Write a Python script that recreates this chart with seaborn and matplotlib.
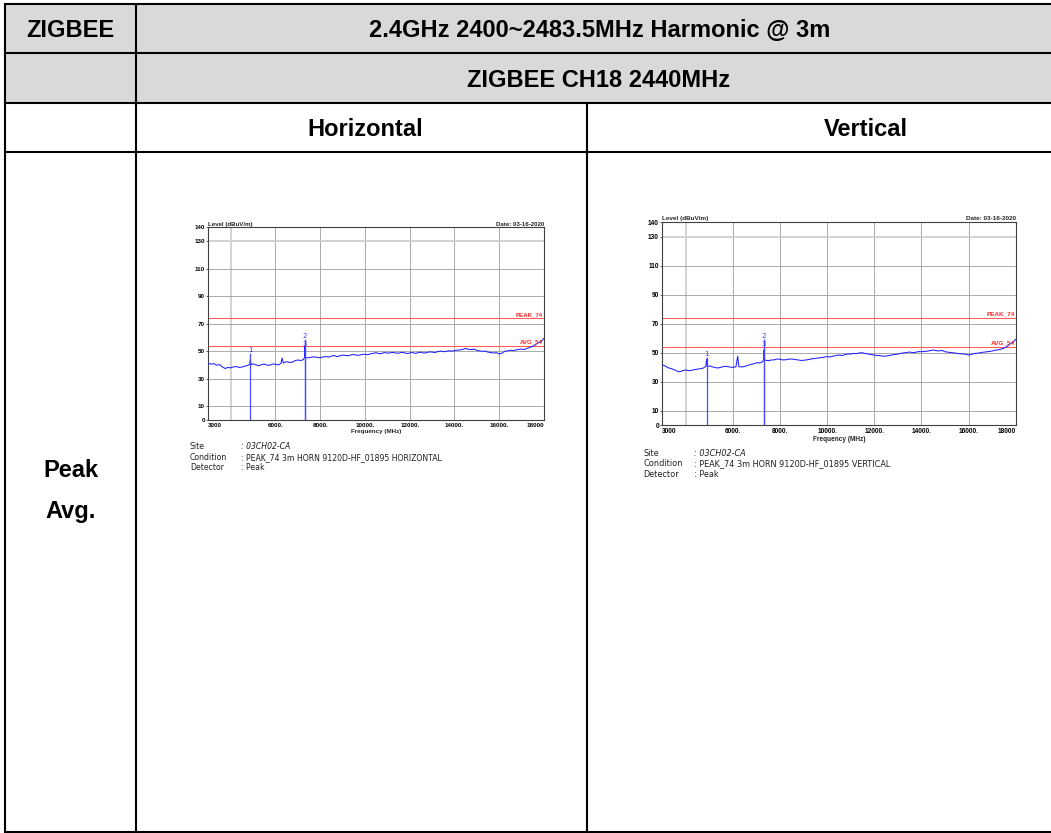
import numpy as np
import pandas as pd
import matplotlib
matplotlib.use("Agg")
import matplotlib.pyplot as plt
import seaborn as sns
from matplotlib.patches import Rectangle

# ---------------- data ----------------
header_band = "ZIGBEE"
header_title = "2.4GHz 2400~2483.5MHz Harmonic @ 3m"
header_channel = "ZIGBEE CH18 2440MHz"
pol_labels = ["Horizontal", "Vertical"]
row_labels = ["Peak", "Avg."]

y_ticks = [0, 10, 30, 50, 70, 90, 110, 130, 140]
x_ticks = [3000, 4000, 6000, 8000, 10000, 12000, 14000, 16000, 18000]
x_tick_labels = ["3000", "", "6000.", "8000.", "10000.", "12000.", "14000.", "16000.", "18000"]
limit_levels = [74, 54]
limit_names = ["PEAK_74", "AVG_54"]
date_text = "Date: 03-16-2020"
y_label = "Level (dBuV/m)"
x_label = "Frequency (MHz)"

freq_h = [3000, 3125, 3250, 3375, 3500, 3625, 3750, 3875, 4000, 4125,
          4250, 4375, 4500, 4625, 4750, 4850, 4880, 4910, 5000, 5125,
          5250, 5375, 5500, 5625, 5750, 5875, 6000, 6125, 6250, 6300,
          6350, 6500, 6625, 6750, 6875, 7000, 7125, 7250, 7300, 7320,
          7340, 7500, 7625, 7750, 7875, 8000, 8125, 8250, 8375, 8500,
          8625, 8750, 8875, 9000, 9125, 9250, 9375, 9500, 9625, 9750,
          9875, 10000, 10125, 10250, 10375, 10500, 10625, 10750, 10875, 11000,
          11125, 11250, 11375, 11500, 11625, 11750, 11875, 12000, 12125, 12250,
          12375, 12500, 12625, 12750, 12875, 13000, 13125, 13250, 13375, 13500,
          13625, 13750, 13875, 14000, 14125, 14250, 14375, 14500, 14625, 14750,
          14875, 15000, 15125, 15250, 15375, 15500, 15625, 15750, 15875, 16000,
          16125, 16250, 16375, 16500, 16625, 16750, 16875, 17000, 17125, 17250,
          17375, 17500, 17625, 17750, 17875, 18000]
level_h = [41.2, 40.6, 40.9, 39.8, 40.3, 38.6, 37.4, 38.2, 37.9, 38.6,
           38.8, 38.2, 38.4, 39.1, 39.6, 40.4, 44.0, 40.2, 40.8, 40.1,
           39.4, 40.2, 40.6, 39.9, 39.8, 40.7, 40.5, 40.0, 41.2, 45.0,
           41.4, 42.4, 41.8, 42.0, 43.1, 43.6, 43.2, 43.9, 45.5, 54.0,
           45.2, 45.3, 45.7, 45.9, 45.4, 45.2, 45.8, 46.1, 45.7, 46.4,
           46.9, 46.0, 46.6, 47.2, 46.9, 46.7, 47.3, 47.6, 47.0, 47.1,
           47.6, 47.8, 47.4, 48.1, 48.5, 48.9, 48.2, 48.4, 49.0, 48.6,
           48.8, 49.1, 48.7, 48.5, 49.2, 48.9, 48.3, 48.7, 49.0, 48.4,
           48.9, 49.3, 48.6, 48.9, 49.5, 49.3, 49.0, 49.7, 50.1, 49.6,
           49.9, 50.3, 50.0, 50.4, 50.8, 50.9, 51.3, 52.0, 51.4, 51.1,
           51.6, 50.6, 50.2, 49.9, 50.1, 49.3, 49.0, 48.7, 48.9, 48.0,
           48.6, 50.0, 50.2, 50.7, 50.4, 50.9, 51.3, 51.5, 51.2, 52.1,
           52.8, 53.6, 54.8, 56.2, 57.0, 59.4]

freq_v = [3000, 3125, 3250, 3375, 3500, 3625, 3750, 3875, 4000, 4125,
          4250, 4375, 4500, 4625, 4750, 4850, 4880, 4910, 5000, 5125,
          5250, 5375, 5500, 5625, 5750, 5875, 6000, 6125, 6200, 6250,
          6375, 6500, 6625, 6750, 6875, 7000, 7125, 7250, 7300, 7320,
          7340, 7500, 7625, 7750, 7875, 8000, 8125, 8250, 8375, 8500,
          8625, 8750, 8875, 9000, 9125, 9250, 9375, 9500, 9625, 9750,
          9875, 10000, 10125, 10250, 10375, 10500, 10625, 10750, 10875, 11000,
          11125, 11250, 11375, 11500, 11625, 11750, 11875, 12000, 12125, 12250,
          12375, 12500, 12625, 12750, 12875, 13000, 13125, 13250, 13375, 13500,
          13625, 13750, 13875, 14000, 14125, 14250, 14375, 14500, 14625, 14750,
          14875, 15000, 15125, 15250, 15375, 15500, 15625, 15750, 15875, 16000,
          16125, 16250, 16375, 16500, 16625, 16750, 16875, 17000, 17125, 17250,
          17375, 17500, 17625, 17750, 17875, 18000]
level_v = [41.4, 40.8, 39.5, 39.0, 38.2, 37.2, 36.8, 37.6, 38.0, 37.5,
           37.8, 38.3, 38.6, 38.9, 39.4, 40.6, 45.4, 40.4, 40.8, 40.2,
           39.6, 39.4, 39.9, 40.5, 40.4, 40.0, 39.8, 40.2, 47.6, 40.3,
           40.1, 40.4, 41.2, 41.8, 42.3, 43.0, 42.8, 43.6, 45.0, 51.8,
           44.9, 44.4, 44.9, 45.0, 45.6, 45.4, 44.9, 45.1, 45.5, 45.6,
           45.2, 45.0, 44.6, 44.7, 45.0, 45.3, 45.8, 46.0, 46.3, 46.6,
           46.9, 47.2, 47.0, 47.6, 48.0, 48.3, 48.0, 48.6, 49.1, 49.0,
           49.4, 49.3, 49.8, 49.9, 49.3, 49.0, 48.6, 48.3, 48.0, 47.9,
           47.5, 47.6, 48.0, 48.4, 48.7, 49.0, 49.5, 49.8, 50.1, 50.4,
           50.0, 50.2, 50.7, 50.6, 50.8, 51.0, 51.4, 51.8, 51.3, 51.2,
           51.5, 50.6, 50.3, 50.0, 49.8, 49.5, 49.2, 49.1, 48.9, 48.3,
           48.8, 49.4, 49.6, 49.9, 50.3, 50.5, 50.8, 51.1, 51.6, 51.9,
           52.4, 53.0, 54.2, 55.8, 57.0, 59.2]

marker_freq = [4880, 7320, 7320]
marker_names = ["1", "2", "3"]
marker_level_h = [49.0, 59.0, 53.0]
marker_level_v = [47.0, 59.5, 54.0]

site_keys = ["Site", "Condition", "Detector"]
site_vals_h = [": 03CH02-CA", ": PEAK_74 3m HORN 9120D-HF_01895 HORIZONTAL", ": Peak"]
site_vals_v = [": 03CH02-CA", ": PEAK_74 3m HORN 9120D-HF_01895 VERTICAL", ": Peak"]

assert len(freq_h) == len(level_h) and len(freq_v) == len(level_v)

# ---------------- figure ----------------
sns.set_style("white")
plt.rcParams["font.family"] = ["Liberation Sans", "DejaVu Sans"]

W, H = 1051, 833
fig = plt.figure(figsize=(W / 100, H / 100), dpi=100)
fig.patch.set_facecolor("white")

bg = fig.add_axes([0, 0, 1, 1])
bg.set_xlim(0, W)
bg.set_ylim(H, 0)
bg.axis("off")

GRAY = "#d9d9d9"
LW = 1.5
x0, c1, c2, xr = 5, 136, 587, W + 5
r0, r1, r2, r3, r4 = 4, 53, 103, 152, 832

bg.add_patch(Rectangle((x0, r0), xr - x0, r2 - r0, facecolor=GRAY, edgecolor="none", zorder=0))
for yy in [r0, r1, r2, r3, r4]:
    bg.plot([x0, xr], [yy, yy], color="black", lw=LW, solid_capstyle="projecting", zorder=2)
bg.plot([x0, x0], [r0, r4], color="black", lw=LW, zorder=2)
bg.plot([c1, c1], [r0, r4], color="black", lw=LW, zorder=2)
bg.plot([c2, c2], [r2, r4], color="black", lw=LW, zorder=2)

hfs = 17
tk = dict(fontsize=hfs, fontweight="bold", ha="center", va="baseline", color="black",
          family="Liberation Sans")
cap = 8.5
bg.text(70.5, (r0 + r1) / 2 + cap, header_band, **tk)
bg.text(600, (r0 + r1) / 2 + cap, header_title, **tk)
bg.text(599, (r1 + r2) / 2 + cap, header_channel, **tk)
bg.text(365, (r2 + r3) / 2 + cap, pol_labels[0], **tk)
bg.text(866, (r2 + r3) / 2 + cap, pol_labels[1], **tk)
bg.text(70.5, 477, row_labels[0], **tk)
bg.text(70.5, 518, row_labels[1], **tk)


def px_rect(left, top, right, bottom):
    return [left / W, 1 - bottom / H, (right - left) / W, (bottom - top) / H]


def draw_spectrum(rect, freq, level, mlevels, site_vals, fs, site_x, colon_x, site_y0, site_dy):
    ax = fig.add_axes(rect)
    ax.set_facecolor("white")
    df = pd.DataFrame({"Frequency (MHz)": freq, "Level": level})
    sns.lineplot(data=df, x="Frequency (MHz)", y="Level", ax=ax, color="#1f1fff",
                 lw=0.75, sort=False, estimator=None, zorder=3)
    ax.set_xlim(3000, 18000)
    ax.set_ylim(0, 140)
    ax.set_yticks(y_ticks)
    ax.set_xticks(x_ticks)
    ax.set_xticklabels(x_tick_labels)
    ax.grid(True, color="#9c9c9c", lw=0.6, zorder=1)
    ax.set_axisbelow(True)
    xg = ax.get_xgridlines()
    xg[1].set_color("#cfcfcf")
    xg[1].set_linewidth(1.3)
    yg = ax.get_ygridlines()
    yg[7].set_color("#cfcfcf")
    yg[7].set_linewidth(1.3)
    ax.tick_params(axis="both", length=1.6, width=0.5, pad=0.8, labelsize=fs * 1.05,
                   colors="#202020", direction="out", bottom=False)
    ax.tick_params(axis="y", left=True)
    for lab in ax.get_xticklabels() + ax.get_yticklabels():
        lab.set_fontweight("bold")
        lab.set_color("black")
    xl = ax.get_xticklabels()
    xl[0].set_ha("left")
    xl[-1].set_ha("right")
    for s in ax.spines.values():
        s.set_color("#404040")
        s.set_linewidth(0.8)
    ax.set_xlabel(x_label, fontsize=fs * 1.05, fontweight="bold", labelpad=0.6)
    ax.set_ylabel("")
    ax.text(0, 1.004, y_label, transform=ax.transAxes, ha="left", va="bottom",
            fontsize=fs * 1.02, fontweight="bold")
    ax.text(1, 1.004, date_text, transform=ax.transAxes, ha="right", va="bottom",
            fontsize=fs * 1.02, fontweight="bold")
    for lv, nm in zip(limit_levels, limit_names):
        ax.axhline(lv, color="#ff5a5a", lw=0.75, zorder=2)
        ax.text(17950, lv + 0.8, nm, ha="right", va="bottom", color="#ff2a2a",
                fontsize=fs * 1.02, fontweight="bold", zorder=4)
    ax.vlines(marker_freq, 0, mlevels, colors="#4a4aff", lw=0.9, zorder=3)
    for f, l, n in zip(marker_freq, mlevels, marker_names):
        ax.text(f, l, n, ha="center", va="bottom", color="#3a3aff", fontsize=fs * 1.15,
                family="DejaVu Sans", zorder=4)
    sfs = fs * 1.3
    for i, (k, v) in enumerate(zip(site_keys, site_vals)):
        yy = site_y0 + i * site_dy
        fig.text(site_x / W, 1 - yy / H, k, ha="left", va="center", fontsize=sfs,
                 family="DejaVu Sans", color="#202020")
        style = "italic" if i == 0 else "normal"
        fig.text(colon_x / W, 1 - yy / H, v, ha="left", va="center", fontsize=sfs,
                 family="DejaVu Sans", color="#202020", style=style)
    return ax


draw_spectrum(px_rect(208.3, 227.3, 544, 420), freq_h, level_h, marker_level_h, site_vals_h,
              4.3, 190, 241, 447, 10.3)
draw_spectrum(px_rect(662.3, 222.3, 1015.7, 425), freq_v, level_v, marker_level_v, site_vals_v,
              4.5, 643, 694.5, 453, 10.8)

fig.savefig("out.png", dpi=100, facecolor="white")
